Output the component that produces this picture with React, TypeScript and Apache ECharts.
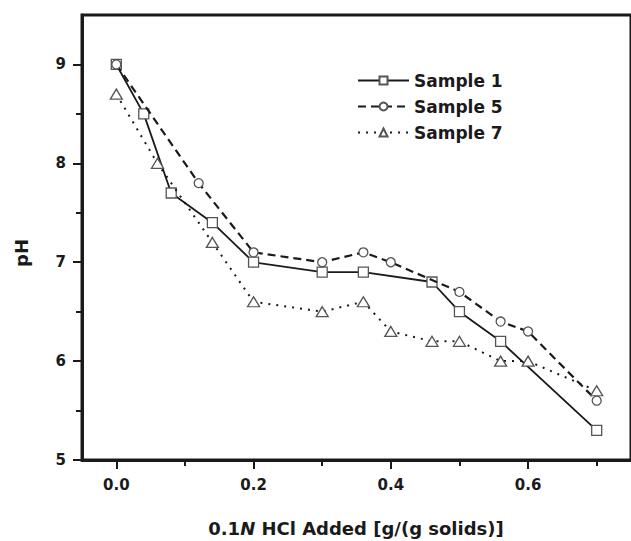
import React, { useEffect, useRef } from 'react';
import * as echarts from 'echarts';

const seriesNames = ['Sample 1', 'Sample 5', 'Sample 7'];

const xSample1 = [0, 0.04, 0.08, 0.14, 0.2, 0.3, 0.36, 0.46, 0.5, 0.56, 0.7];
const ySample1 = [9.0, 8.5, 7.7, 7.4, 7.0, 6.9, 6.9, 6.8, 6.5, 6.2, 5.3];

const xSample5 = [0, 0.12, 0.2, 0.3, 0.36, 0.4, 0.5, 0.56, 0.6, 0.7];
const ySample5 = [9.0, 7.8, 7.1, 7.0, 7.1, 7.0, 6.7, 6.4, 6.3, 5.6];

const xSample7 = [0, 0.06, 0.14, 0.2, 0.3, 0.36, 0.4, 0.46, 0.5, 0.56, 0.6, 0.7];
const ySample7 = [8.7, 8.0, 7.2, 6.6, 6.5, 6.6, 6.3, 6.2, 6.2, 6.0, 6.0, 5.7];

const xMajorTicks = [0, 0.2, 0.4, 0.6];
const xMinorTicks = [0.1, 0.3, 0.5, 0.7];
const yMajorTicks = [5, 6, 7, 8, 9];
const yMinorTicks = [5.5, 6.5, 7.5, 8.5];

const xTitleParts = ['0.1', 'N', ' HCl Added [g/(g solids)]'];
const yTitle = 'pH';

const FONT = 'DejaVu Sans';
const INK = '#1a1a1a';

export default function App() {
  const ref = useRef<HTMLDivElement>(null);

  useEffect(() => {
    const chart = echarts.init(ref.current as HTMLDivElement, null, { renderer: 'svg' });
    const zip = (xs: number[], ys: number[]) => xs.map((x, i) => [x, ys[i]]);
    const xMin = -0.05, xMax = 0.75, yMin = 5, yMax = 9.5;
    const gridRect = { left: 82, right: -3, top: 15, bottom: 81 };
    const labelStyle = { fontFamily: FONT, fontWeight: 'bold' as const, fontSize: 15, color: INK };
    const markerStyle = { color: '#ffffff', borderColor: '#555555', borderWidth: 1.3 };
    const hiddenLine = { show: true, onZero: false, lineStyle: { color: 'rgba(0,0,0,0)', width: 0 } };

    chart.setOption({
      animation: false,
      backgroundColor: '#ffffff',
      grid: [
        { ...gridRect, containLabel: false, show: true, borderColor: INK, borderWidth: 3, backgroundColor: 'transparent' },
        { ...gridRect, containLabel: false, show: false },
      ],
      xAxis: [
        {
          type: 'value', gridIndex: 0, position: 'bottom', min: xMin, max: xMax,
          axisLine: { show: true, onZero: false, lineStyle: { color: INK, width: 3 } },
          axisTick: { show: true, inside: false, customValues: xMajorTicks, length: 9, lineStyle: { color: INK, width: 2 } },
          axisLabel: { show: true, customValues: xMajorTicks, margin: 17, formatter: (v: number) => v.toFixed(1), ...labelStyle },
          splitLine: { show: false },
        },
        {
          type: 'value', gridIndex: 1, position: 'bottom', min: xMin, max: xMax,
          axisLine: hiddenLine,
          axisTick: { show: true, inside: false, customValues: xMinorTicks, length: 6, lineStyle: { color: INK, width: 2 } },
          axisLabel: { show: false },
          splitLine: { show: false },
        },
      ],
      yAxis: [
        {
          type: 'value', gridIndex: 0, position: 'left', min: yMin, max: yMax,
          axisLine: { show: true, onZero: false, lineStyle: { color: INK, width: 3 } },
          axisTick: { show: true, inside: false, customValues: yMajorTicks, length: 9, lineStyle: { color: INK, width: 2 } },
          axisLabel: { show: true, customValues: yMajorTicks, margin: 16, formatter: (v: number) => String(v), ...labelStyle },
          splitLine: { show: false },
        },
        {
          type: 'value', gridIndex: 1, position: 'left', min: yMin, max: yMax,
          axisLine: hiddenLine,
          axisTick: { show: true, inside: false, customValues: yMinorTicks, length: 6, lineStyle: { color: INK, width: 2 } },
          axisLabel: { show: false },
          splitLine: { show: false },
        },
      ],
      legend: {
        show: true,
        orient: 'vertical',
        left: 357,
        top: 72,
        padding: 0,
        itemWidth: 51,
        itemHeight: 10,
        itemGap: 9,
        data: seriesNames,
        textStyle: { fontFamily: FONT, fontWeight: 'bold', fontSize: 17, color: INK, lineHeight: 17 },
      },
      series: [
        {
          name: seriesNames[0], type: 'line', xAxisIndex: 0, yAxisIndex: 0,
          data: zip(xSample1, ySample1),
          symbol: 'rect', symbolSize: 10, showAllSymbol: true,
          lineStyle: { color: INK, width: 1.8, type: 'solid' },
          itemStyle: markerStyle,
          z: 2,
        },
        {
          name: seriesNames[1], type: 'line', xAxisIndex: 0, yAxisIndex: 0,
          data: zip(xSample5, ySample5),
          symbol: 'circle', symbolSize: 9, showAllSymbol: true,
          lineStyle: { color: INK, width: 2.2, type: [8, 5] },
          itemStyle: markerStyle,
          z: 3,
        },
        {
          name: seriesNames[2], type: 'line', xAxisIndex: 0, yAxisIndex: 0,
          data: zip(xSample7, ySample7),
          symbol: 'triangle', symbolSize: [12, 10], showAllSymbol: true,
          lineStyle: { color: INK, width: 2, type: [2, 6] },
          itemStyle: markerStyle,
          z: 4,
        },
      ],
      graphic: [
        {
          type: 'text', x: 21, y: 253, rotation: Math.PI / 2,
          style: { text: yTitle, font: `bold 18px "${FONT}"`, fill: INK, textAlign: 'center', textVerticalAlign: 'middle' },
        },
        {
          type: 'text', x: 356, y: 528,
          style: {
            text: `{n|${xTitleParts[0]}}{i|${xTitleParts[1]}}{n|${xTitleParts[2]}}`,
            textAlign: 'center', textVerticalAlign: 'middle',
            rich: {
              n: { fontFamily: FONT, fontWeight: 'bold', fontSize: 18, fill: INK },
              i: { fontFamily: FONT, fontWeight: 'bold', fontStyle: 'italic', fontSize: 18, fill: INK },
            },
          },
        },
      ],
    });
    return () => chart.dispose();
  }, []);

  return <div ref={ref} style={{ position: 'fixed', left: 0, top: 0, width: 631, height: 541 }} />;
}
